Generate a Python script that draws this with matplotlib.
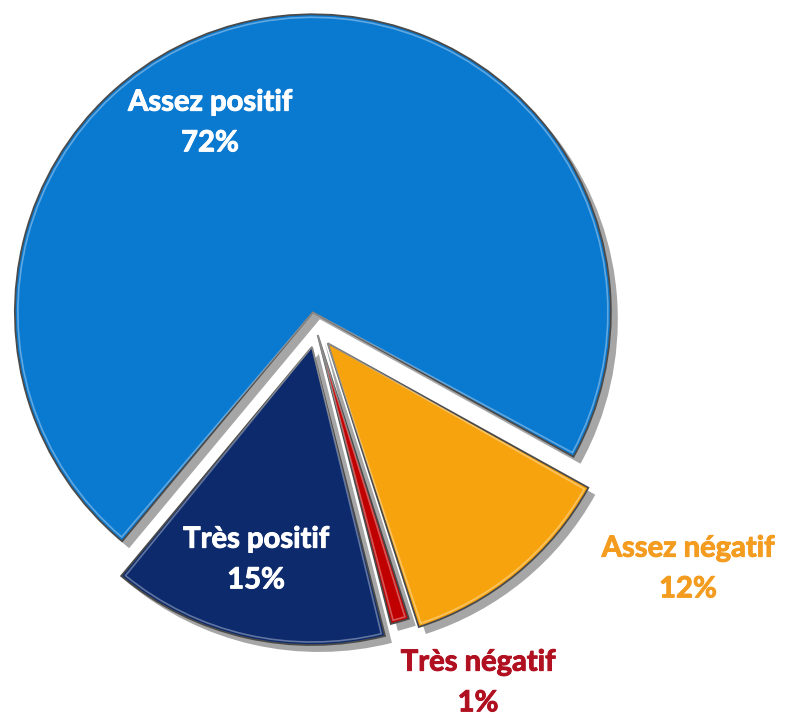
import matplotlib.pyplot as plt
import matplotlib.patches as mpatches
import matplotlib.patheffects as pe

plt.rcParams['font.family'] = ['Lato', 'DejaVu Sans']

# donnees
labels = ['Assez positif', 'Très positif', 'Très négatif', 'Assez négatif']
values = [72, 15, 1, 12]
colors = ['#0A79D0', '#0C2A6C', '#C00000', '#F7A30D']
text_colors = ['white', 'white', '#B01020', '#F39C1F']
explode_frac = [0.057, 0.062, 0.021, 0.062]

fig = plt.figure(figsize=(7.88, 7.21), dpi=100)
ax = fig.add_axes([0, 0, 1, 1])

# centre et rayon en pixels (axe y vers le haut)
cx, cy, r = 316, 721 - 329, 298

wedges, _ = ax.pie(values, colors=colors, explode=[e * r for e in explode_frac],
                   startangle=-29, counterclock=True, center=(cx, cy), radius=r,
                   wedgeprops=dict(edgecolor='#4a4a4a', linewidth=1.3))
for w in wedges:
    w.set_path_effects([pe.SimplePatchShadow(offset=(5, -5), alpha=0.35, shadow_rgbFace='black'),
                        pe.Normal()])
    # liseré clair façon biseau
    w2 = mpatches.Wedge(w.center, w.r - 3, w.theta1 + 0.6, w.theta2 - 0.6,
                        fill=False, edgecolor='white', linewidth=1.2, alpha=0.35)
    ax.add_patch(w2)

# positions des etiquettes (pixels)
label_pos = [(210, 123), (256, 560), (478, 683), (688, 569)]
for lab, v, col, (x, y) in zip(labels, values, text_colors, label_pos):
    ax.text(x, 721 - y, f'{lab}\n{v}%', color=col, ha='center', va='center',
            fontsize=21, fontweight='bold', linespacing=1.7,
            path_effects=[pe.withStroke(linewidth=0.7, foreground=col)])

ax.set_xlim(0, 788)
ax.set_ylim(0, 721)
ax.set_aspect('equal')
ax.axis('off')

fig.savefig('out.png', dpi=100)
